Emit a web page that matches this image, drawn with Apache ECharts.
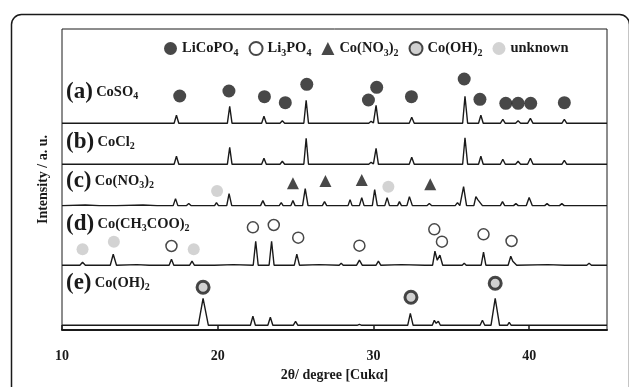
<!DOCTYPE html>
<html>
<head>
<meta charset="utf-8">
<script src="https://cdn.jsdelivr.net/npm/echarts@6/dist/echarts.min.js"></script>
<style>
	html, body { margin: 0; padding: 0; background: #fff; }
	#chart { width: 629px; height: 387px; }
</style>
</head>
<body>
<div id="chart"></div>
<script>
//Trace data [2theta, intensity], each trace above its own baseline
let traceA = [[10,0],[17.2,0],[17.35,8],[17.5,0],[20.62,0],[20.77,17],[20.92,0],[22.82,0],[22.97,7],[23.12,0],[24.0,0],[24.15,2.5],[24.3,0],
	[25.53,0],[25.68,23],[25.83,0],[29.7,0],[29.85,2],[30.0,0.5],[30.17,18],[30.32,0],[32.3,0],[32.46,6],[32.62,0],[35.73,0],[35.88,27],[36.05,0],
	[36.75,0],[36.9,8],[37.05,0],[38.15,0],[38.31,4],[38.47,0],[39.13,0],[39.29,2.5],[39.45,0],[39.9,0],[40.08,5],[40.25,0],[42.1,0],[42.26,4],[42.42,0],[45,0]];
let traceB = [[10,0],[17.2,0],[17.35,8],[17.5,0],[20.62,0],[20.77,17],[20.92,0],[22.82,0],[22.97,6],[23.12,0],[24.0,0],[24.15,3],[24.3,0],
	[25.53,0],[25.68,26],[25.83,0],[29.7,0],[29.85,2],[30.0,0.5],[30.17,16],[30.32,0],[32.3,0],[32.46,7],[32.62,0],[35.73,0],[35.88,26.5],[36.05,0],
	[36.75,0],[36.9,8],[37.05,0],[38.15,0],[38.31,5],[38.47,0],[39.13,0],[39.29,3],[39.45,0],[39.9,0],[40.08,6],[40.25,0],[42.1,0],[42.26,4],[42.42,0],[45,0]];
let traceC = [[10,0],[11.5,0.6],[12.4,0],[13.3,0],[13.4,1],[13.5,0],[15.2,0.6],[16.1,0],[17.14,0],[17.29,7],[17.44,0],[18.0,0],[18.14,2],[18.28,0],
	[19.8,0],[19.92,3],[20.05,0],[20.58,0],[20.73,12],[20.9,0],[22.75,0],[22.9,5],[23.05,0],[23.95,0],[24.08,3],[24.2,0],[24.7,0],[24.83,5],[24.97,0],
	[25.45,0],[25.62,17],[25.8,0],[26.72,0],[26.86,4],[27.0,0],[27.6,0],[27.7,1],[27.8,0],[28.37,0],[28.5,6],[28.63,0],[29.1,0],[29.25,8],[29.4,0],
	[29.93,0],[30.08,16],[30.25,0],[30.73,0],[30.88,8],[31.03,0],[31.55,0],[31.67,4],[31.8,0],[32.15,0],[32.31,9],[32.5,0],[33.45,0],[33.59,2],[33.73,0],
	[35.25,0],[35.4,3],[35.55,0],[35.62,0],[35.79,19],[35.98,0],[36.45,0],[36.58,9],[36.7,6],[36.8,7],[37.0,0],[38.15,0],[38.29,4],[38.43,0],
	[39.0,0],[39.15,2],[39.3,0],[39.82,0],[40.0,8],[40.2,0],[41.0,0],[41.15,2],[41.3,0],[41.95,0],[42.1,2],[42.25,0],[42.8,0],[42.9,1],[43.0,0],[45,0]];
let traceD = [[10,0],[11.15,0],[11.32,3],[11.5,0],[13.1,0],[13.29,11],[13.5,0],[14.8,0.6],[15.6,0],[16.88,0],[17.03,6],[17.18,0],[18.2,0],[18.35,4],[18.5,0],
	[19.6,0],[19.7,1],[19.8,0],[21.0,0.6],[22.28,0],[22.44,24],[22.6,0],[23.3,0],[23.46,24],[23.62,0],[24.92,0],[25.08,11],[25.25,0],[26.5,0.6],
	[27.8,0],[27.93,2],[28.06,0],[28.92,0],[29.1,5],[29.28,0],[30.17,0],[30.32,4],[30.47,0],[31.8,0.6],[33.3,0],[33.4,2],[33.8,0],[33.95,14],[34.1,5],
	[34.27,10],[34.45,0],[35.7,0],[35.83,2],[35.96,0],[36.92,0],[37.07,13],[37.22,0],[38.65,0],[38.82,9],[38.95,4],[39.05,5],[39.2,0],[41.2,0.6],
	[42.3,0],[43.7,0],[43.85,2],[44.0,0],[45,0]];
let traceE = [[10,0],[16.8,0],[16.92,2],[17.05,0],[18.75,0],[19.06,27],[19.4,0],[22.1,0],[22.26,9],[22.42,0],[23.22,0],[23.38,8],[23.54,0],
	[24.85,0],[25.0,4],[25.15,0],[28.95,0],[29.1,1],[29.25,0],[32.2,0],[32.37,12],[32.55,0],[33.78,0],[33.91,5],[34.03,2],[34.17,4],[34.3,0],
	[36.85,0],[37.0,5],[37.15,0],[37.55,0],[37.82,27],[38.1,0],[38.6,0],[38.72,3],[38.85,0],[45,0]];

let traces = [traceA, traceB, traceC, traceD, traceE];
let baselines = [206.7, 165.7, 124.4, 64.8, 4.7];
let traceNames = ['(a)', '(b)', '(c)', '(d)', '(e)'];
let traceSalts = ['{f|CoSO}{s|4}', '{f|CoCl}{s|2}', '{f|Co(NO}{s|3}{f|)}{s|2}', '{f|Co(CH}{s|3}{f|COO)}{s|2}', '{f|Co(OH)}{s|2}'];

//Phase markers [2theta, height on the same scale]
let markLiCoPO4 = [[17.56,234],[20.72,239],[23.0,233.3],[24.34,227.3],[25.72,245.7],[29.68,230],[30.21,242.7],[32.44,233.3],
	[35.83,251],[36.84,230.7],[38.5,226.7],[39.29,226.7],[40.1,226.7],[42.26,227.3]];
let markLi3PO4 = [[17.03,84],[22.26,102.7],[23.6,105],[25.17,92.3],[29.1,84.3],[33.91,100.7],[34.4,88.3],[37.07,95.7],[38.87,89]];
let markCoNO3 = [[24.83,146.7],[26.92,149],[29.25,150],[33.65,145.7]];
let markCoOH = [[19.06,42.7],[32.41,32.7],[37.82,46.7]];
let markUnknown = [[19.96,139],[30.96,143.3],[11.32,80.7],[13.33,88.3],[18.46,80.7]];

let xTicks = [10, 45, 10]; //min, max, interval
let legendRich = {
	'LiCoPO4': '{b|LiCoPO}{t|4}',
	'Li3PO4': '{b|Li}{t|3}{b|PO}{t|4}',
	'Co(NO3)2': '{b|Co(NO}{t|3}{b|)}{t|2}',
	'Co(OH)2': '{b|Co(OH)}{t|2}',
	'unknown': '{b|unknown}'
};

let serif = '"Liberation Serif", "Times New Roman", serif';
let ink = '#1a1a1a';

let chart = echarts.init(document.getElementById('chart'));

let series = [];
for (let i = 0; i < traces.length; i++) {
	let off = baselines[i];
	series.push({
		type: 'line',
		name: traceNames[i],
		data: traces[i].map(p => [p[0], p[1] + off]),
		showSymbol: false,
		symbol: 'none',
		lineStyle: { color: ink, width: 1.4 },
		z: 2
	});
}

function markSeries(name, data, symbol, size, style) {
	return {
		type: 'scatter',
		name: name,
		data: data,
		symbol: symbol,
		symbolSize: size,
		itemStyle: style,
		z: 5
	};
}
series.push(markSeries('LiCoPO4', markLiCoPO4, 'circle', 13, { color: ink }));
series.push(markSeries('Li3PO4', markLi3PO4, 'circle', 11, { color: '#fff', borderColor: ink, borderWidth: 1.5 }));
series.push(markSeries('Co(NO3)2', markCoNO3, 'triangle', 12, { color: ink }));
series.push(markSeries('Co(OH)2', markCoOH, 'circle', 12, { color: '#c4c4c4', borderColor: ink, borderWidth: 3 }));
series.push(markSeries('unknown', markUnknown, 'circle', 12, { color: '#c8c8c8' }));

let labelGraphics = [];
let labelTops = [81, 131, 170, 213, 272];
for (let i = 0; i < traceNames.length; i++) {
	labelGraphics.push({
		type: 'text',
		left: 66,
		top: labelTops[i],
		style: {
			text: '{p|' + traceNames[i] + '} ' + traceSalts[i],
			rich: {
				p: { fontFamily: serif, fontWeight: 'bold', fontSize: 23, fill: ink, lineHeight: 24 },
				f: { fontFamily: serif, fontWeight: 'bold', fontSize: 14.5, fill: ink, lineHeight: 24 },
				s: { fontFamily: serif, fontWeight: 'bold', fontSize: 10, fill: ink, lineHeight: 24, verticalAlign: 'bottom', padding: [0, 0, 3, 0] }
			}
		},
		z: 10
	});
}

let option = {
	animation: false,
	backgroundColor: '#fff',
	grid: { left: 62, right: 22, top: 29, bottom: 57, show: true, borderColor: ink, borderWidth: 1 },
	legend: {
		data: ['LiCoPO4', 'Li3PO4', 'Co(NO3)2', 'Co(OH)2', 'unknown'],
		left: 159,
		top: 36,
		itemWidth: 13,
		itemHeight: 13,
		itemGap: 10,
		formatter: name => legendRich[name],
		textStyle: {
			rich: {
				b: { fontFamily: serif, fontWeight: 'bold', fontSize: 14.5, color: ink, lineHeight: 19 },
				t: { fontFamily: serif, fontWeight: 'bold', fontSize: 10, color: ink, lineHeight: 19, verticalAlign: 'bottom' }
			}
		}
	},
	xAxis: {
		type: 'value',
		min: xTicks[0],
		max: xTicks[1],
		interval: xTicks[2],
		name: '2θ/ degree [Cukα]',
		nameLocation: 'middle',
		nameGap: 38,
		nameTextStyle: { fontFamily: serif, fontWeight: 'bold', fontSize: 14, color: ink },
		axisLine: { lineStyle: { color: ink, width: 2 } },
		axisTick: { inside: true, length: 5, lineStyle: { color: ink, width: 1.5 } },
		axisLabel: { margin: 19, showMaxLabel: false, fontFamily: serif, fontWeight: 'bold', fontSize: 14, color: ink },
		splitLine: { show: false }
	},
	yAxis: {
		type: 'value',
		min: 0,
		max: 301,
		name: 'Intensity / a. u.',
		nameLocation: 'middle',
		nameGap: 12,
		nameTextStyle: { fontFamily: serif, fontWeight: 'bold', fontSize: 14, color: ink },
		axisLine: { show: false },
		axisTick: { show: false },
		axisLabel: { show: false },
		splitLine: { show: false }
	},
	graphic: [
		{
			type: 'rect',
			left: 9,
			top: 12,
			shape: { width: 618, height: 400, r: 10 },
			style: { fill: null, stroke: ink, lineWidth: 1.5 },
			z: 0
		}
	].concat(labelGraphics),
	series: series
};

chart.setOption(option);
</script>
</body>
</html>
